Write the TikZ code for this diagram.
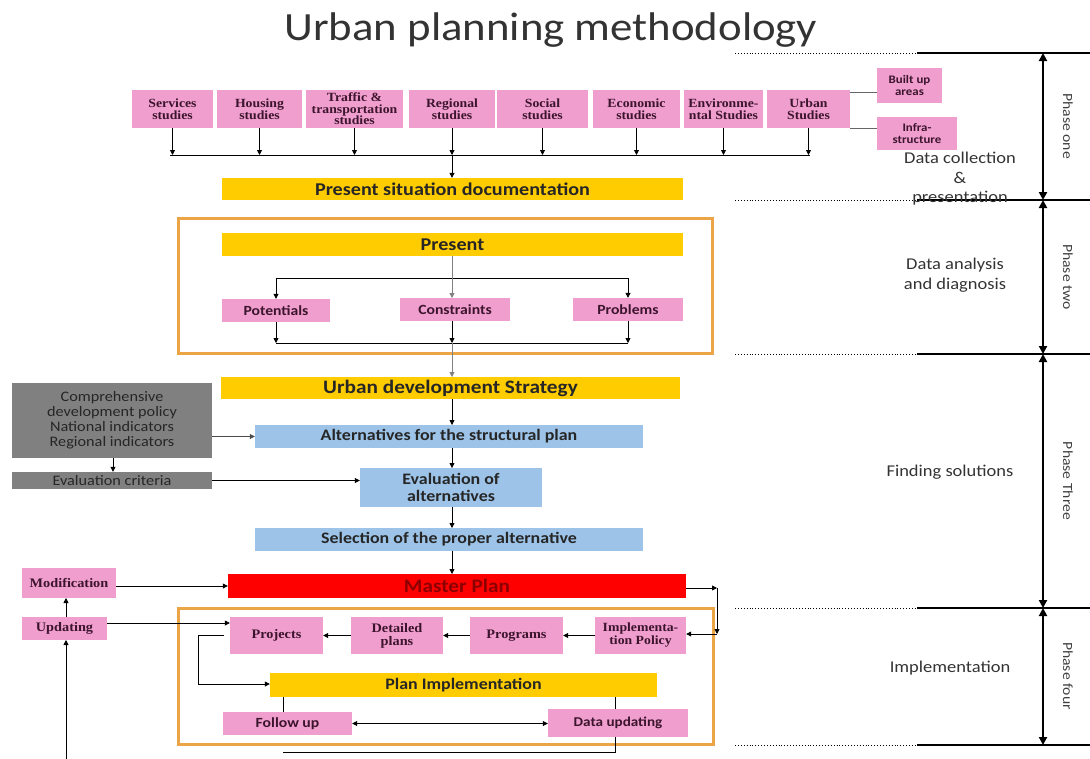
\documentclass[tikz,border=0pt]{standalone}
\usepackage{fontspec}
\setmainfont{Carlito}[FakeStretch=1.12]
\newfontfamily\serifb{Liberation Serif}[FakeStretch=1.1]
\usetikzlibrary{arrows.meta,calc}
\definecolor{pinkc}{RGB}{240,158,205}
\definecolor{yel}{RGB}{255,204,0}
\definecolor{bluec}{RGB}{157,196,232}
\definecolor{grayc}{RGB}{128,128,128}
\definecolor{redc}{RGB}{255,0,0}
\definecolor{framec}{RGB}{236,165,70}
\definecolor{txtp}{RGB}{60,20,45}
\begin{document}
\begin{tikzpicture}[x=1pt,y=-1pt,
  box/.style={inner sep=0pt, align=center},
  pinkser/.style={box, fill=pinkc, text=txtp, font=\serifb\bfseries\fontsize{12.5}{11.5}\selectfont},
  pinksans/.style={box, fill=pinkc, text=txtp, font=\bfseries\fontsize{14}{14}\selectfont},
  yelbox/.style={box, fill=yel, text=black!85, font=\bfseries\fontsize{18}{18}\selectfont},
  bluebox/.style={box, fill=bluec, text=black!85, font=\bfseries\fontsize{16}{17}\selectfont},
  graybox/.style={box, fill=grayc, text=black!85, font=\fontsize{14.5}{15}\selectfont},
  frame/.style={draw=framec, line width=3pt, inner sep=0pt},
  arr/.style={-{Triangle[length=5pt,width=5pt]}, line width=0.8pt},
  ln/.style={line width=0.8pt},
  divd/.style={line width=0.9pt, dotted},
  divs/.style={line width=1.2pt},
  phase/.style={{Triangle[length=8pt,width=8pt]}-{Triangle[length=8pt,width=8pt]}, line width=2.5pt},
  side/.style={font=\fontsize{16.5}{19.5}\selectfont, text=black!80, align=center},
  ph/.style={font=\fontsize{14}{14}\selectfont, text=black!75, rotate=-90}
]
\useasboundingbox (0,0) rectangle (1090,758);
% title
\node[font=\fontsize{40}{40}\selectfont, text=black!80] (title) at (551,30) {Urban planning methodology};

% top studies
\node[pinkser, minimum width=81, minimum height=38] (s1) at (172.5,109) {Services\\studies};
\node[pinkser, minimum width=85, minimum height=38] (s2) at (259.5,109) {Housing\\studies};
\node[pinkser, minimum width=97, minimum height=38] (s3) at (354.5,109) {Traffic \&\\transportation\\studies};
\node[pinkser, minimum width=86, minimum height=38] (s4) at (452,109) {Regional\\studies};
\node[pinkser, minimum width=91, minimum height=38] (s5) at (542.5,109) {Social\\studies};
\node[pinkser, minimum width=87, minimum height=38] (s6) at (636.5,109) {Economic\\studies};
\node[pinkser, minimum width=79, minimum height=38] (s7) at (723.5,109) {Environme-\\ntal Studies};
\node[pinkser, minimum width=83, minimum height=38] (s8) at (808.5,109) {Urban\\Studies};
\node[pinksans, font=\bfseries\fontsize{11.5}{12}\selectfont, minimum width=65, minimum height=35] (bua) at (909.5,85.5) {Built up\\areas};
\node[pinksans, font=\bfseries\fontsize{11.5}{12}\selectfont, minimum width=80, minimum height=33] (inf) at (917,133.5) {Infra-\\structure};
\coordinate (u1) at (850,92);
\coordinate (u2) at (850,128);
\draw[ln, black!60] (u1) -- (u1 -| bua.west);
\draw[ln, black!60] (u2) -- (u2 -| inf.west);

\coordinate (busL) at (170,155);
\coordinate (busR) at (810,155);
\draw[ln] (busL) -- (busR);
\foreach \n in {s1,s2,s3,s4,s5,s6,s7,s8}{
  \draw[arr] (\n.south) -- (\n.south |- busL);
}
% present situation
\node[yelbox, minimum width=461, minimum height=22] (psd) at (452.5,189) {Present situation documentation};
\draw[arr] (s4.south |- busL) -- (s4.south |- psd.north);

% frame 1
\node[frame, minimum width=534, minimum height=135] (fr1) at (445,285.5) {};
\node[yelbox, minimum width=461, minimum height=23] (pres) at (452.5,244.5) {Present};
\node[pinksans, minimum width=108, minimum height=23] (pot) at (276,310.5) {Potentials};
\node[pinksans, minimum width=110, minimum height=23] (con) at (455,309.5) {Constraints};
\node[pinksans, minimum width=110, minimum height=23] (prob) at (628,309.5) {Problems};
\coordinate (t1) at (276,278);
\coordinate (t2) at (628,278);
\draw[ln] (t1) -- (t2);
\draw[arr] (t1) -- (pot.north);
\draw[arr] (t2) -- (prob.north);
\draw[arr, black!50] (452,256) -- (452,298);
\coordinate (b1) at (276,343);
\coordinate (b2) at (628,343);
\draw[ln] (b1) -- (b2);
\draw[arr] (pot.south) -- (b1);
\draw[arr] (prob.south) -- (b2);
\draw[arr] (con.south -| 452,0) -- (452,343);

% strategy
\node[yelbox, font=\bfseries\fontsize{19}{19}\selectfont, minimum width=459, minimum height=22] (uds) at (450.5,388) {Urban development Strategy};
\draw[arr, black!50] (452,343) -- (452,377);
\node[bluebox, minimum width=388, minimum height=23] (alt) at (449,436.5) {Alternatives for the structural plan};
\node[bluebox, minimum width=182, minimum height=39] (eva) at (451,487.5) {Evaluation of\\alternatives};
\node[bluebox, minimum width=388, minimum height=23] (sel) at (449,539.5) {Selection of the proper alternative};
\node[box, fill=redc, text=red!55!black, font=\bfseries\fontsize{19}{19}\selectfont, minimum width=458, minimum height=24] (mp) at (457,586) {Master Plan};
\draw[arr] (452,399) -- (452,425);
\draw[arr] (452,448) -- (452,468);
\draw[arr] (452,507) -- (452,528);
\draw[arr] (452,551) -- (452,574);

% gray
\node[graybox, minimum width=200, minimum height=75] (gr) at (112,420.5) {Comprehensive\\development policy\\National indicators\\Regional indicators};
\node[graybox, minimum width=200, minimum height=17] (ec) at (112,480.5) {Evaluation criteria};
\draw[arr] (gr.south -| 113,0) -- (ec.north -| 113,0);
\draw[arr, black!70] (gr.east |- alt.west) -- (alt.west);
\draw[arr] (ec.east) -- (ec.east -| eva.west);

% left feedback
\node[pinkser, font=\serifb\bfseries\fontsize{13}{13}\selectfont, minimum width=94, minimum height=30] (mod) at (69,583) {Modification};
\node[pinkser, font=\serifb\bfseries\fontsize{13}{13}\selectfont, minimum width=85, minimum height=23] (upd) at (64.5,628.5) {Updating};
\draw[arr] (mod.east |- mp.west) -- (mp.west);
\draw[arr] (66,617) -- (66,598);
\coordinate (bot) at (66,760);
\draw[arr] (bot) -- (66,640);

% frame 2
\node[frame, minimum width=535, minimum height=136] (fr2) at (445.5,676.5) {};
\node[pinkser, font=\serifb\bfseries\fontsize{13}{13}\selectfont, minimum width=93, minimum height=37] (proj) at (276.5,635.5) {Projects};
\node[pinkser, font=\serifb\bfseries\fontsize{13}{13}\selectfont, minimum width=92, minimum height=37] (det) at (397,635.5) {Detailed\\plans};
\node[pinkser, font=\serifb\bfseries\fontsize{13}{13}\selectfont, minimum width=93, minimum height=37] (prog) at (516.5,635.5) {Programs};
\node[pinkser, font=\serifb\bfseries\fontsize{12.5}{13}\selectfont, minimum width=91, minimum height=37] (imp) at (640.5,635.5) {Implementa-\\tion Policy};
\draw[arr] (upd.east |- 0,623) -- (proj.west |- 0,623);
\draw[arr] (imp.west) -- (prog.east);
\draw[arr] (prog.west) -- (det.east);
\draw[arr] (det.west) -- (proj.east);
\coordinate (c1) at (717,588);
\coordinate (c2) at (717,634);
\draw[arr] (mp.east |- c1) -- (c1);
\draw[arr] (c1) -- (c2);
\draw[arr] (c2) -- (imp.east |- c2);

\node[yelbox, font=\bfseries\fontsize{16}{16}\selectfont, minimum width=387, minimum height=24] (pim) at (463.5,685) {Plan Implementation};
\coordinate (p1) at (224,635);
\coordinate (p2) at (198,635);
\coordinate (p3) at (198,684);
\draw[ln] (p1) -- (p2) -- (p3);
\draw[arr] (p3) -- (pim.west |- p3);
\node[pinksans, minimum width=129, minimum height=23] (fol) at (287.5,723.5) {Follow up};
\node[pinksans, font=\bfseries\fontsize{13.5}{14}\selectfont, minimum width=140, minimum height=28] (dup) at (618,723) {Data updating};
\draw[ln] (pim.south -| 283,0) -- (fol.north -| 283,0);
\draw[ln] (pim.south -| 615,0) -- (dup.north -| 615,0);
\draw[{Triangle[length=5pt,width=5pt]}-{Triangle[length=5pt,width=5pt]}, line width=0.8pt] (fol.east) -- (dup.west |- fol.east);
\coordinate (q1) at (615,752);
\coordinate (q2) at (283,752);
\draw[ln] (dup.south -| q1) -- (q1) -- (q2);

% right dividers
\foreach \yy in {53,200,354,608,745}{
  \draw[divd] (735,\yy) -- (917,\yy);
  \draw[divs] (917,\yy) -- (1090,\yy);
}
\coordinate (ph1) at (1043,53);
\coordinate (ph2) at (1043,200);
\coordinate (ph3) at (1043,354);
\coordinate (ph4) at (1043,608);
\coordinate (ph5) at (1043,745);
\draw[phase] (ph1) -- (ph2);
\draw[phase] (ph2) -- (ph3);
\draw[phase] (ph3) -- (ph4);
\draw[phase] (ph4) -- (ph5);
\node[ph] (pl1) at (1068,126) {Phase one};
\node[ph] (pl2) at (1068,277) {Phase two};
\node[ph] (pl3) at (1068,481) {Phase Three};
\node[ph] (pl4) at (1068,676) {Phase four};
\node[side] (sd1) at (960,179) {Data collection\\\&\\presentation};
\node[side] (sd2) at (955,275) {Data analysis\\and diagnosis};
\node[side] (sd3) at (950,472) {Finding solutions};
\node[side] (sd4) at (950,668) {Implementation};
\end{tikzpicture}
\end{document}
